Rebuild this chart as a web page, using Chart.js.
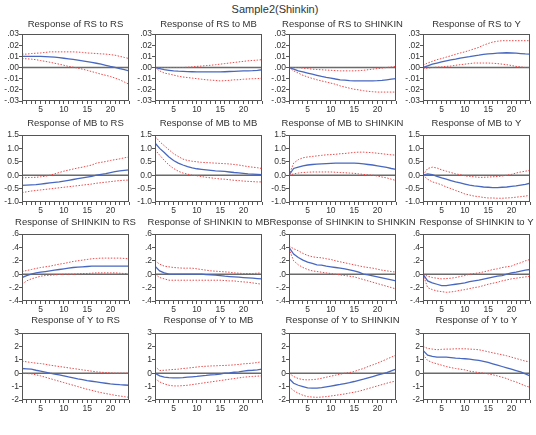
<!DOCTYPE html>
<html><head><meta charset="utf-8">
<script src="https://cdn.jsdelivr.net/npm/chart.js@4.4.1/dist/chart.umd.min.js"></script>
<style>
html,body{margin:0;padding:0;background:#fff;}
#root{position:relative;width:536px;height:435px;overflow:hidden;background:#fff;}
#main{position:absolute;left:0;top:3px;width:550px;text-align:center;font:11px "Liberation Sans",Arial,sans-serif;color:#333;line-height:13px;}
.cell{position:absolute;}
canvas{display:block;}
</style></head><body><div id="root"><div id="main">Sample2(Shinkin)</div></div>
<script>
// ---------- data ----------
const periods = [1,2,3,4,5,6,7,8,9,10,11,12,13,14,15,16,17,18,19,20,21,22,23,24];
const xTickLabels = [5,10,15,20];
const variables = ['RS','MB','SHINKIN','Y'];

const yTicksRS = [-0.03,-0.02,-0.01,0,0.01,0.02,0.03];
const yLabelsRS = ['-.03','-.02','-.01','.00','.01','.02','.03'];
const yTicksMB = [-1.0,-0.5,0,0.5,1.0,1.5];
const yLabelsMB = ['-1.0','-0.5','0.0','0.5','1.0','1.5'];
const yTicksSH = [-0.4,-0.2,0,0.2,0.4,0.6];
const yLabelsSH = ['-.4','-.2','.0','.2','.4','.6'];
const yTicksY = [-2,-1,0,1,2,3];
const yLabelsY = ['-2','-1','0','1','2','3'];

// Response of RS
const rs_rs    = [.010,.010,.010,.010,.010,.0098,.0095,.0092,.0088,.0083,.0078,.0073,.0067,.0060,.0053,.0046,.0038,.0030,.0020,.0010,.0001,-.0010,-.0020,-.0030];
const rs_rs_hi = [.012,.012,.0125,.0128,.013,.0135,.014,.014,.014,.014,.014,.014,.0138,.0135,.013,.0128,.0125,.0122,.012,.0115,.011,.010,.009,.008];
const rs_rs_lo = [.008,.0078,.0075,.007,.0062,.0055,.0047,.0038,.003,.002,.001,.0003,-.0005,-.0015,-.0025,-.0037,-.0048,-.006,-.007,-.008,-.0095,-.011,-.013,-.015];
const rs_mb    = [0,-.001,-.002,-.0025,-.003,-.0033,-.0035,-.0037,-.0038,-.004,-.004,-.004,-.004,-.004,-.004,-.0038,-.0036,-.0034,-.0032,-.003,-.003,-.0028,-.0025,-.002];
const rs_mb_hi = [0,0,0,0,0,0,0,.0002,.0005,.001,.0013,.0017,.002,.0025,.003,.0035,.004,.0045,.005,.0055,.006,.0063,.0066,.007];
const rs_mb_lo = [0,-.003,-.005,-.0058,-.0068,-.0078,-.0085,-.009,-.0095,-.010,-.0105,-.011,-.0113,-.0116,-.012,-.0118,-.0115,-.011,-.011,-.0105,-.0103,-.010,-.010,-.0095];
const rs_sh    = [0,-.0015,-.003,-.004,-.005,-.006,-.007,-.008,-.0088,-.0095,-.0103,-.011,-.0113,-.0117,-.012,-.012,-.012,-.012,-.012,-.0118,-.0115,-.011,-.0105,-.010];
const rs_sh_hi = [0,0,0,-.0005,-.001,-.0015,-.0018,-.002,-.0023,-.0025,-.0028,-.003,-.003,-.003,-.003,-.0028,-.0025,-.002,-.0015,-.001,-.0005,0,.0005,.001];
const rs_sh_lo = [0,-.003,-.005,-.007,-.0085,-.0098,-.011,-.012,-.013,-.014,-.015,-.0165,-.0175,-.0185,-.0195,-.020,-.0208,-.0213,-.0217,-.022,-.022,-.022,-.022,-.022];
const rs_y     = [0,.0015,.003,.004,.005,.006,.0068,.0075,.0083,.009,.0097,.0105,.011,.0118,.0122,.0125,.0128,.013,.0132,.013,.0128,.0125,.0122,.012];
const rs_y_hi  = [.002,.004,.0055,.007,.008,.0093,.0105,.0118,.013,.014,.0153,.0167,.018,.020,.0215,.0228,.0235,.024,.024,.024,.024,.024,.024,.024];
const rs_y_lo  = [-.001,-.0005,0,.0003,.0005,.001,.0013,.002,.0025,.003,.0035,.004,.004,.004,.004,.0038,.0035,.003,.0025,.0018,.001,.0005,0,0];

// Response of MB
const mb_rs    = [-.38,-.37,-.36,-.35,-.33,-.31,-.29,-.27,-.25,-.22,-.19,-.16,-.13,-.10,-.07,-.04,0,.03,.06,.10,.13,.16,.18,.20];
const mb_rs_hi = [-.10,-.09,-.085,-.08,-.06,-.04,0,.05,.10,.15,.19,.23,.27,.30,.34,.38,.45,.48,.51,.55,.58,.61,.65,.68];
const mb_rs_lo = [-.65,-.62,-.59,-.57,-.55,-.53,-.51,-.49,-.47,-.45,-.43,-.41,-.39,-.37,-.35,-.33,-.30,-.28,-.26,-.24,-.22,-.20,-.19,-.18];
const mb_mb    = [1.2,1.0,.85,.68,.55,.45,.38,.32,.27,.24,.22,.20,.18,.16,.15,.14,.12,.10,.09,.07,.05,.04,.03,.02];
const mb_mb_hi = [1.45,1.25,1.1,.95,.8,.7,.6,.55,.52,.50,.48,.47,.46,.45,.44,.43,.42,.40,.38,.35,.32,.30,.28,.25];
const mb_mb_lo = [.95,.75,.55,.38,.25,.15,.08,.04,0,-.02,-.05,-.08,-.10,-.12,-.14,-.15,-.17,-.19,-.20,-.22,-.23,-.24,-.25,-.25];
const mb_sh    = [0,.25,.30,.35,.38,.40,.41,.42,.43,.44,.45,.45,.45,.45,.45,.44,.42,.40,.38,.35,.32,.29,.25,.22];
const mb_sh_hi = [0,.45,.58,.65,.68,.70,.72,.74,.76,.77,.78,.80,.81,.83,.85,.86,.86,.85,.84,.82,.80,.78,.76,.75];
const mb_sh_lo = [0,.05,.08,.10,.11,.12,.12,.12,.12,.12,.11,.10,.09,.08,.07,.05,.03,.01,0,-.03,-.07,-.10,-.15,-.20];
const mb_y     = [0,.05,.02,-.04,-.10,-.15,-.20,-.25,-.29,-.33,-.37,-.40,-.42,-.44,-.45,-.46,-.46,-.45,-.44,-.42,-.40,-.37,-.34,-.30];
const mb_y_hi  = [0,.25,.30,.27,.20,.15,.10,.05,.02,-.02,-.05,-.06,-.08,-.08,-.07,-.06,-.05,-.03,0,.03,.08,.12,.15,.18];
const mb_y_lo  = [0,-.15,-.25,-.30,-.36,-.44,-.50,-.57,-.63,-.70,-.74,-.78,-.80,-.83,-.85,-.85,-.86,-.86,-.85,-.84,-.82,-.80,-.78,-.75];

// Response of SHINKIN
const sh_rs    = [-.05,-.02,0,.02,.03,.04,.05,.06,.07,.08,.09,.10,.105,.11,.115,.12,.12,.12,.12,.12,.12,.12,.12,.12];
const sh_rs_hi = [.04,.055,.07,.085,.10,.11,.12,.135,.15,.16,.175,.19,.20,.21,.22,.23,.235,.24,.24,.24,.24,.24,.235,.23];
const sh_rs_lo = [-.15,-.10,-.07,-.05,-.03,-.02,-.015,-.01,-.005,0,0,0,.005,.01,.01,.015,.02,.02,.02,.02,.02,.015,.01,.01];
const sh_mb    = [.12,.05,.02,0,0,0,0,0,0,0,0,-.005,-.01,-.015,-.02,-.03,-.035,-.04,-.045,-.05,-.055,-.06,-.065,-.07];
const sh_mb_hi = [.20,.15,.12,.11,.10,.095,.09,.09,.09,.08,.07,.06,.05,.045,.04,.035,.03,.02,.015,.01,.01,.01,.015,.02];
const sh_mb_lo = [0,-.05,-.07,-.09,-.09,-.09,-.09,-.09,-.09,-.09,-.09,-.09,-.09,-.09,-.09,-.095,-.10,-.10,-.11,-.115,-.12,-.13,-.14,-.15];
const sh_sh    = [.40,.30,.25,.21,.18,.16,.14,.135,.12,.11,.10,.09,.08,.065,.05,.03,0,-.01,-.025,-.04,-.055,-.07,-.085,-.10];
const sh_sh_hi = [.42,.38,.35,.31,.28,.26,.25,.245,.23,.22,.20,.185,.17,.155,.14,.125,.11,.10,.09,.075,.06,.05,.04,.03];
const sh_sh_lo = [.38,.20,.14,.10,.07,.05,.04,.03,.02,.01,0,-.01,-.02,-.03,-.04,-.06,-.08,-.10,-.12,-.14,-.16,-.18,-.20,-.22];
const sh_y     = [0,-.10,-.13,-.15,-.17,-.17,-.16,-.15,-.14,-.13,-.11,-.10,-.09,-.075,-.06,-.045,-.03,-.02,0,.02,.03,.045,.06,.07];
const sh_y_hi  = [0,-.03,-.05,-.06,-.07,-.065,-.06,-.05,-.035,-.02,0,.01,.02,.035,.05,.07,.08,.10,.11,.12,.15,.17,.20,.22];
const sh_y_lo  = [0,-.20,-.23,-.25,-.26,-.27,-.265,-.255,-.24,-.23,-.215,-.20,-.19,-.17,-.15,-.135,-.12,-.10,-.085,-.07,-.06,-.05,-.04,-.03];

// Response of Y
const y_rs     = [.35,.33,.30,.22,.15,.08,0,-.07,-.13,-.20,-.28,-.35,-.42,-.48,-.55,-.60,-.65,-.70,-.75,-.80,-.83,-.86,-.88,-.90];
const y_rs_hi  = [.90,.85,.80,.75,.72,.67,.60,.55,.50,.45,.40,.35,.30,.25,.20,.15,.10,.07,.05,.02,0,0,0,0];
const y_rs_lo  = [0,-.02,-.05,-.12,-.20,-.30,-.40,-.50,-.60,-.70,-.80,-.90,-1.0,-1.1,-1.2,-1.28,-1.37,-1.45,-1.52,-1.58,-1.65,-1.70,-1.75,-1.80];
const y_mb     = [0,-.20,-.30,-.33,-.35,-.35,-.33,-.30,-.27,-.24,-.20,-.17,-.13,-.10,-.06,0,.03,.07,.10,.15,.20,.22,.25,.30];
const y_mb_hi  = [.50,.20,.22,.25,.28,.30,.35,.38,.42,.46,.50,.52,.54,.55,.57,.58,.60,.62,.65,.70,.72,.75,.80,.85];
const y_mb_lo  = [-.40,-.65,-.80,-.90,-.95,-.95,-.93,-.90,-.85,-.80,-.75,-.70,-.65,-.60,-.55,-.50,-.45,-.40,-.35,-.30,-.27,-.24,-.22,-.20];
const y_sh     = [-.40,-.75,-.90,-1.0,-1.10,-1.12,-1.12,-1.08,-1.02,-.96,-.90,-.84,-.77,-.70,-.62,-.53,-.45,-.35,-.25,-.15,-.05,.05,.18,.30];
const y_sh_hi  = [0,-.25,-.40,-.48,-.50,-.48,-.45,-.38,-.30,-.22,-.15,-.08,0,.05,.12,.25,.35,.50,.62,.75,.90,1.05,1.20,1.35];
const y_sh_lo  = [-1.0,-1.30,-1.50,-1.65,-1.75,-1.78,-1.80,-1.78,-1.75,-1.70,-1.65,-1.60,-1.55,-1.48,-1.42,-1.35,-1.25,-1.15,-1.05,-.95,-.85,-.75,-.65,-.60];
const y_y      = [1.70,1.35,1.25,1.20,1.20,1.20,1.17,1.13,1.10,1.08,1.05,1.0,.95,.88,.80,.70,.60,.50,.40,.30,.20,.10,-.05,-.20];
const y_y_hi   = [2.0,1.85,1.80,1.75,1.78,1.80,1.80,1.82,1.82,1.82,1.80,1.78,1.75,1.68,1.60,1.52,1.45,1.38,1.30,1.20,1.10,1.0,.90,.85];
const y_y_lo   = [1.40,.95,.80,.70,.60,.50,.42,.35,.30,.25,.15,.10,.05,0,-.05,-.12,-.20,-.30,-.40,-.55,-.65,-.80,-.95,-1.05];

// ---------- assembly ----------
const rowAxes = [
  {ticks: yTicksRS, labels: yLabelsRS},
  {ticks: yTicksMB, labels: yLabelsMB},
  {ticks: yTicksSH, labels: yLabelsSH},
  {ticks: yTicksY,  labels: yLabelsY}
];
const panels = [
  [[rs_rs,rs_rs_hi,rs_rs_lo],[rs_mb,rs_mb_hi,rs_mb_lo],[rs_sh,rs_sh_hi,rs_sh_lo],[rs_y,rs_y_hi,rs_y_lo]],
  [[mb_rs,mb_rs_hi,mb_rs_lo],[mb_mb,mb_mb_hi,mb_mb_lo],[mb_sh,mb_sh_hi,mb_sh_lo],[mb_y,mb_y_hi,mb_y_lo]],
  [[sh_rs,sh_rs_hi,sh_rs_lo],[sh_mb,sh_mb_hi,sh_mb_lo],[sh_sh,sh_sh_hi,sh_sh_lo],[sh_y,sh_y_hi,sh_y_lo]],
  [[y_rs,y_rs_hi,y_rs_lo],[y_mb,y_mb_hi,y_mb_lo],[y_sh,y_sh_hi,y_sh_lo],[y_y,y_y_hi,y_y_lo]]
];

const colLefts = [22,155,289,423];
const rowTops = [34,135,234,333];
const plotW = 107, plotH = 67;
const titleGap = [7,9,9,10];

Chart.defaults.font.family = '"Liberation Sans", Arial, sans-serif';
Chart.defaults.color = '#333';

const framePlugin = {
  id: 'frame',
  beforeDatasetsDraw(chart) {
    const {ctx, chartArea: a, scales} = chart;
    const y0 = scales.y.getPixelForValue(0);
    ctx.save();
    ctx.strokeStyle = '#6a6a6a';
    ctx.lineWidth = 1.5;
    ctx.beginPath(); ctx.moveTo(a.left, y0); ctx.lineTo(a.right, y0); ctx.stroke();
    ctx.restore();
  },
  afterDraw(chart, args, opts) {
    const {ctx, chartArea: a} = chart;
    ctx.save();
    ctx.strokeStyle = '#555';
    ctx.lineWidth = 1;
    ctx.strokeRect(a.left + 0.5, a.top + 0.5, a.right - a.left - 1, a.bottom - a.top - 1);
    ctx.fillStyle = '#333';
    ctx.font = '9.5px "Liberation Sans", Arial, sans-serif';
    ctx.textAlign = 'center';
    ctx.textBaseline = 'alphabetic';
    ctx.fillText(opts.text, (a.left + a.right) / 2, a.top - opts.gap);
    ctx.restore();
  }
};

const toXY = arr => periods.map((p, i) => ({x: p, y: arr[i]}));
const root = document.getElementById('root');

function makePanel(r, c) {
  const [mid, hi, lo] = panels[r][c];
  const ax = rowAxes[r];
  const wrap = document.createElement('div');
  wrap.className = 'cell';
  const cv = document.createElement('canvas');
  cv.width = 200; cv.height = 110;
  wrap.appendChild(cv); root.appendChild(wrap);
  const red = {borderColor: '#ec4848', borderWidth: 1, borderDash: [1.5, 1.5], pointRadius: 0, fill: false, tension: 0};
  const chart = new Chart(cv, {
    type: 'line',
    data: {
      datasets: [
        Object.assign({data: toXY(hi)}, red),
        Object.assign({data: toXY(lo)}, red),
        {data: toXY(mid), borderColor: '#4868c0', borderWidth: 1.3, pointRadius: 0, fill: false, tension: 0}
      ]
    },
    options: {
      responsive: false, maintainAspectRatio: false, animation: false, events: [],
      layout: {padding: {left: 14, right: 36, top: 22, bottom: 2}},
      plugins: {
        legend: {display: false}, tooltip: {enabled: false}, title: {display: false},
        frame: {text: 'Response of ' + variables[r] + ' to ' + variables[c], gap: titleGap[r]}
      },
      scales: {
        x: {
          type: 'linear', min: 1, max: 24,
          afterBuildTicks: s => { s.ticks = periods.map(v => ({value: v})); },
          afterFit: s => { s.height = 14; },
          ticks: {autoSkip: false, maxRotation: 0, padding: 1, font: {size: 8.5}, color: '#333',
                  callback: v => xTickLabels.includes(v) ? String(v) : ''},
          grid: {drawOnChartArea: false, drawTicks: true, tickLength: 3, color: '#555'},
          border: {display: false}
        },
        y: {
          min: ax.ticks[0], max: ax.ticks[ax.ticks.length - 1],
          afterBuildTicks: s => { s.ticks = ax.ticks.map(v => ({value: v})); },
          afterFit: s => { s.width = 22; },
          ticks: {autoSkip: false, padding: 0, font: {size: 8.5}, color: '#333',
                  callback: (v, i) => ax.labels[i]},
          grid: {drawOnChartArea: false, drawTicks: true, tickLength: 3, color: '#555'},
          border: {display: false}
        }
      }
    },
    plugins: [framePlugin]
  });
  const a = chart.chartArea;
  const W = Math.round(200 + plotW - (a.right - a.left));
  const H = Math.round(110 + plotH - (a.bottom - a.top));
  chart.resize(W, H);
  const b = chart.chartArea;
  wrap.style.left = Math.round(colLefts[c] - b.left) + 'px';
  wrap.style.top = Math.round(rowTops[r] - b.top) + 'px';
}

for (let r = 0; r < 4; r++) for (let c = 0; c < 4; c++) makePanel(r, c);
</script>
</body></html>
